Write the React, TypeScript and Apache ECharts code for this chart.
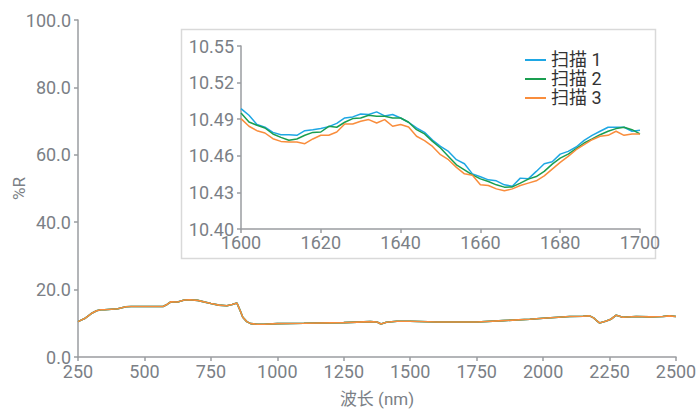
import React, { useEffect, useRef } from "react";
import * as echarts from "echarts";

// Full spectrum (nm, %R) — the three scans overlap at this scale
const spectrumWl = [250, 275, 300, 320, 335, 350, 400, 430, 450, 500, 570, 585, 600, 625, 650, 670, 700, 750, 780, 810, 830, 848, 860, 870, 885, 900, 925, 950, 1000, 1100, 1250, 1350, 1375, 1390, 1410, 1450, 1500, 1600, 1750, 1850, 1950, 2000, 2100, 2150, 2175, 2190, 2200, 2212, 2235, 2255, 2275, 2300, 2350, 2400, 2450, 2475, 2500];
const spectrumR = [10.5, 11.4, 12.9, 13.7, 14.0, 14.0, 14.3, 14.9, 15.0, 15.0, 15.0, 15.6, 16.4, 16.3, 16.9, 17.0, 16.8, 15.9, 15.4, 15.2, 15.6, 16.0, 13.8, 11.8, 10.5, 9.9, 9.7, 9.7, 9.9, 10.0, 10.2, 10.5, 10.4, 9.8, 10.3, 10.6, 10.6, 10.4, 10.4, 10.8, 11.2, 11.5, 12.0, 12.1, 12.2, 11.6, 10.9, 10.1, 10.6, 11.2, 12.4, 11.8, 12.0, 11.9, 12.0, 12.2, 12.0];

// Zoomed region 1600–1700 nm, 2 nm step
const zoomWl = [1600, 1602, 1604, 1606, 1608, 1610, 1612, 1614, 1616, 1618, 1620, 1622, 1624, 1626, 1628, 1630, 1632, 1634, 1636, 1638, 1640, 1642, 1644, 1646, 1648, 1650, 1652, 1654, 1656, 1658, 1660, 1662, 1664, 1666, 1668, 1670, 1672, 1674, 1676, 1678, 1680, 1682, 1684, 1686, 1688, 1690, 1692, 1694, 1696, 1698, 1700];
const scan1 = [10.4987, 10.4932, 10.4856, 10.4834, 10.4792, 10.4773, 10.4773, 10.4768, 10.4806, 10.4814, 10.4823, 10.4839, 10.4866, 10.491, 10.4919, 10.4943, 10.4938, 10.496, 10.4927, 10.4938, 10.491, 10.4875, 10.4828, 10.4792, 10.4729, 10.4677, 10.4636, 10.4568, 10.4535, 10.4452, 10.4428, 10.4403, 10.4395, 10.4362, 10.4351, 10.4417, 10.4411, 10.4472, 10.4535, 10.4551, 10.4614, 10.4636, 10.4672, 10.4727, 10.4768, 10.4801, 10.4834, 10.4834, 10.4834, 10.4801, 10.4809];
const scan2 = [10.4951, 10.4877, 10.485, 10.4828, 10.4779, 10.4751, 10.4727, 10.4738, 10.4768, 10.4792, 10.4795, 10.4842, 10.4834, 10.4875, 10.4905, 10.491, 10.4932, 10.4924, 10.4924, 10.491, 10.491, 10.4875, 10.4814, 10.4779, 10.4718, 10.4664, 10.4595, 10.4526, 10.4485, 10.4444, 10.4411, 10.4389, 10.4362, 10.4343, 10.4345, 10.4376, 10.4409, 10.443, 10.4472, 10.4532, 10.4581, 10.4614, 10.4658, 10.4705, 10.4738, 10.4773, 10.4801, 10.4823, 10.4834, 10.4814, 10.4779];
const scan3 = [10.4905, 10.4842, 10.4806, 10.4787, 10.474, 10.4718, 10.4713, 10.4713, 10.4699, 10.4738, 10.4768, 10.4768, 10.4795, 10.4861, 10.4861, 10.4883, 10.4897, 10.4869, 10.4897, 10.4842, 10.4856, 10.4836, 10.476, 10.4724, 10.4677, 10.4609, 10.4568, 10.4505, 10.4452, 10.4441, 10.4362, 10.4356, 10.4329, 10.4313, 10.4329, 10.4356, 10.4376, 10.4395, 10.4436, 10.4491, 10.4546, 10.4595, 10.465, 10.4691, 10.4732, 10.476, 10.4768, 10.4801, 10.4768, 10.4779, 10.4779];

const seriesNames = ["扫描 1", "扫描 2", "扫描 3"];
const seriesColors = ["#1ea7e4", "#1a9e50", "#f98d3c"];
const zoomScans = [scan1, scan2, scan3];

const FONT = "Roboto, 'Noto Sans CJK SC', sans-serif";
const GRAY = "#7b7f86";
const AXIS = "#9a9ca0";
const FS = 18;

export default function App() {
  const ref = useRef<HTMLDivElement>(null);
  useEffect(() => {
    if (!ref.current) return;
    const chart = echarts.init(ref.current, undefined, { renderer: "svg" });
    const spectrum = spectrumWl.map((w, i) => [w, spectrumR[i]]);
    const axisCommon = {
      axisLine: { show: true, lineStyle: { color: AXIS, width: 1.5 } },
      axisTick: { show: true, length: 4, lineStyle: { color: AXIS, width: 1.5 } },
      splitLine: { show: false },
      nameMoveOverlap: false,
      axisLabel: { color: GRAY, fontSize: FS, fontFamily: FONT, margin: 5, formatter: (v: number) => String(v) },
    };
    chart.setOption({
      animation: false,
      textStyle: { fontFamily: FONT },
      graphic: [
        {
          type: "rect",
          shape: { x: 181.5, y: 29.5, width: 474, height: 229 },
          style: { fill: "#fff", stroke: "#d9d9d9", lineWidth: 1.5 },
          z: 0,
        },
      ],
      grid: [
        { left: 78, right: 20, top: 20, bottom: 52, containLabel: false, outerBoundsMode: "none" },
        { left: 241, right: 56, top: 46, bottom: 180, z: 5, containLabel: false, outerBoundsMode: "none" },
      ],
      legend: {
        show: true,
        orient: "vertical",
        left: 525,
        top: 51,
        padding: 0,
        itemGap: 1,
        itemWidth: 21,
        itemHeight: 2,
        icon: "rect",
        data: seriesNames,
        textStyle: { color: "#333", fontSize: FS, fontFamily: FONT },
        z: 10,
      },
      xAxis: [
        {
          ...axisCommon,
          gridIndex: 0,
          type: "value",
          min: 250,
          max: 2500,
          interval: 250,
          name: "波长 (nm)",
          nameLocation: "middle",
          nameGap: 33,
          nameTextStyle: { color: GRAY, fontSize: 17, fontFamily: FONT },
        },
        {
          ...axisCommon,
          gridIndex: 1,
          type: "value",
          min: 1600,
          max: 1700,
          interval: 20,
          axisLabel: { ...axisCommon.axisLabel, margin: 4 },
        },
      ],
      yAxis: [
        {
          ...axisCommon,
          gridIndex: 0,
          type: "value",
          min: 0,
          max: 100,
          interval: 20,
          axisLabel: { ...axisCommon.axisLabel, margin: 7, formatter: (v: number) => v.toFixed(1) },
          name: "%R",
          nameLocation: "middle",
          nameGap: 51,
          nameTextStyle: { color: GRAY, fontSize: 17, fontFamily: FONT },
        },
        {
          ...axisCommon,
          gridIndex: 1,
          type: "value",
          min: 10.4,
          max: 10.55,
          interval: 0.03,
          axisLabel: { ...axisCommon.axisLabel, margin: 7, formatter: (v: number) => v.toFixed(2) },
        },
      ],
      series: [
        ...seriesNames.map((name, i) => ({
          name,
          type: "line",
          xAxisIndex: 0,
          yAxisIndex: 0,
          data: spectrum,
          symbol: "none",
          lineStyle: { color: seriesColors[i], width: 1.6 },
          itemStyle: { color: seriesColors[i] },
          z: 2 + i,
        })),
        ...seriesNames.map((name, i) => ({
          name,
          type: "line",
          xAxisIndex: 1,
          yAxisIndex: 1,
          data: zoomWl.map((w, j) => [w, zoomScans[i][j]]),
          symbol: "none",
          lineStyle: { color: seriesColors[i], width: 1.5 },
          itemStyle: { color: seriesColors[i] },
          z: 6 + i,
        })),
      ],
    });
    return () => chart.dispose();
  }, []);
  return (
    <div
      ref={ref}
      style={{ position: "fixed", left: 0, top: 0, width: 696, height: 409, background: "#fff" }}
    />
  );
}
